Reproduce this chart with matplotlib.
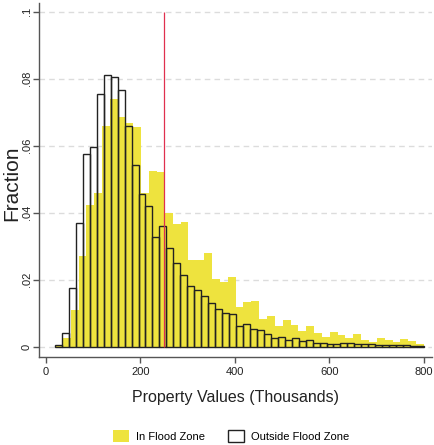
import numpy as np
import matplotlib
matplotlib.use("Agg")
import matplotlib.pyplot as plt
from matplotlib.patches import Patch

# histogram fractions, property values in thousands
in_zone = [0.0003, 0.0025, 0.0110, 0.0270, 0.0423, 0.0458, 0.0659, 0.0739,
           0.0685, 0.0669, 0.0657, 0.0458, 0.0524, 0.0520, 0.0398, 0.0365,
           0.0373, 0.0259, 0.0260, 0.0280, 0.0201, 0.0194, 0.0207, 0.0118,
           0.0134, 0.0137, 0.0082, 0.0093, 0.0062, 0.0080, 0.0064, 0.0048,
           0.0063, 0.0040, 0.0030, 0.0045, 0.0035, 0.0025, 0.0037, 0.0020,
           0.0015, 0.0027, 0.0020, 0.0013, 0.0023, 0.0017, 0.0008]
out_zone = [0.0005, 0.0040, 0.0174, 0.0370, 0.0574, 0.0597, 0.0753, 0.0810,
            0.0806, 0.0766, 0.0659, 0.0541, 0.0456, 0.0421, 0.0327, 0.0360,
            0.0294, 0.0251, 0.0214, 0.0182, 0.0169, 0.0151, 0.0130, 0.0113,
            0.0100, 0.0098, 0.0063, 0.0068, 0.0052, 0.0050, 0.0037, 0.0025,
            0.0030, 0.0020, 0.0025, 0.0018, 0.0020, 0.0012, 0.0010, 0.0008,
            0.0009, 0.0010, 0.0012, 0.0008, 0.0007, 0.0008, 0.0006, 0.0005,
            0.0006, 0.0004, 0.0004, 0.0003, 0.0002]
value_min, value_max = 19, 800
cutoff = 250

yticks = [0, 0.02, 0.04, 0.06, 0.08, 0.1]
ytick_labels = ["0", ".02", ".04", ".06", ".08", ".1"]
xticks = [0, 200, 400, 600, 800]

yellow = "#eee33e"
ink = "#222222"
font = ["Liberation Sans", "DejaVu Sans"]

fig = plt.figure(figsize=(4.34, 4.45), dpi=100)
ax = fig.add_axes([0.0899, 0.1984, 0.9055, 0.7949])

in_edges = np.linspace(value_min, value_max, len(in_zone) + 1)
out_edges = np.linspace(value_min, value_max, len(out_zone) + 1)

ax.bar(in_edges[:-1], in_zone, width=np.diff(in_edges), align="edge",
       color=yellow, edgecolor="none", zorder=2)
ax.bar(out_edges[:-1], out_zone, width=np.diff(out_edges), align="edge",
       facecolor="none", edgecolor=ink, linewidth=1.0, zorder=3)
ax.vlines(cutoff, 0, 0.1, color="#e0304f", linewidth=0.9, zorder=4)

ax.set_xlim(-14.8, 817)
ax.set_ylim(-0.003, 0.1026)

ax.set_yticks(yticks)
ax.set_yticklabels(ytick_labels, rotation=90, va="center",
                   family=font, fontsize=8)
ax.set_xticks(xticks)
ax.set_xticklabels([str(t) for t in xticks], family=font, fontsize=8)

ax.yaxis.grid(True, linestyle=(0, (4, 3)), color="#dcdcdc", linewidth=1.0)
ax.set_axisbelow(True)

for side in ["top", "right"]:
    ax.spines[side].set_visible(False)
for side in ["left", "bottom"]:
    ax.spines[side].set_color("#555555")
    ax.spines[side].set_linewidth(1.0)
ax.tick_params(axis="both", color="#555555", length=4.3, width=1.0,
               labelcolor=ink)
ax.tick_params(axis="x", pad=3)
ax.tick_params(axis="y", pad=0.9)

ax.set_xlabel("Property Values (Thousands)", family=font, fontsize=11.5,
              color=ink, labelpad=9.5)
ax.set_ylabel("Fraction", family=font, fontsize=15, color=ink,
              va="baseline")
ax.yaxis.set_label_coords(-0.056, 0.49)

handles = [Patch(facecolor=yellow, edgecolor="none"),
           Patch(facecolor="white", edgecolor=ink, linewidth=1.0)]
fig.legend(handles, ["In Flood Zone", "Outside Flood Zone"], loc="center",
           bbox_to_anchor=(231 / 434, 1 - 436 / 445), ncol=2, frameon=False,
           prop={"family": font, "size": 8}, handlelength=1.44,
           handleheight=1.35, handletextpad=0.63, columnspacing=2.07)

fig.savefig("out.png", dpi=100, facecolor="white")
